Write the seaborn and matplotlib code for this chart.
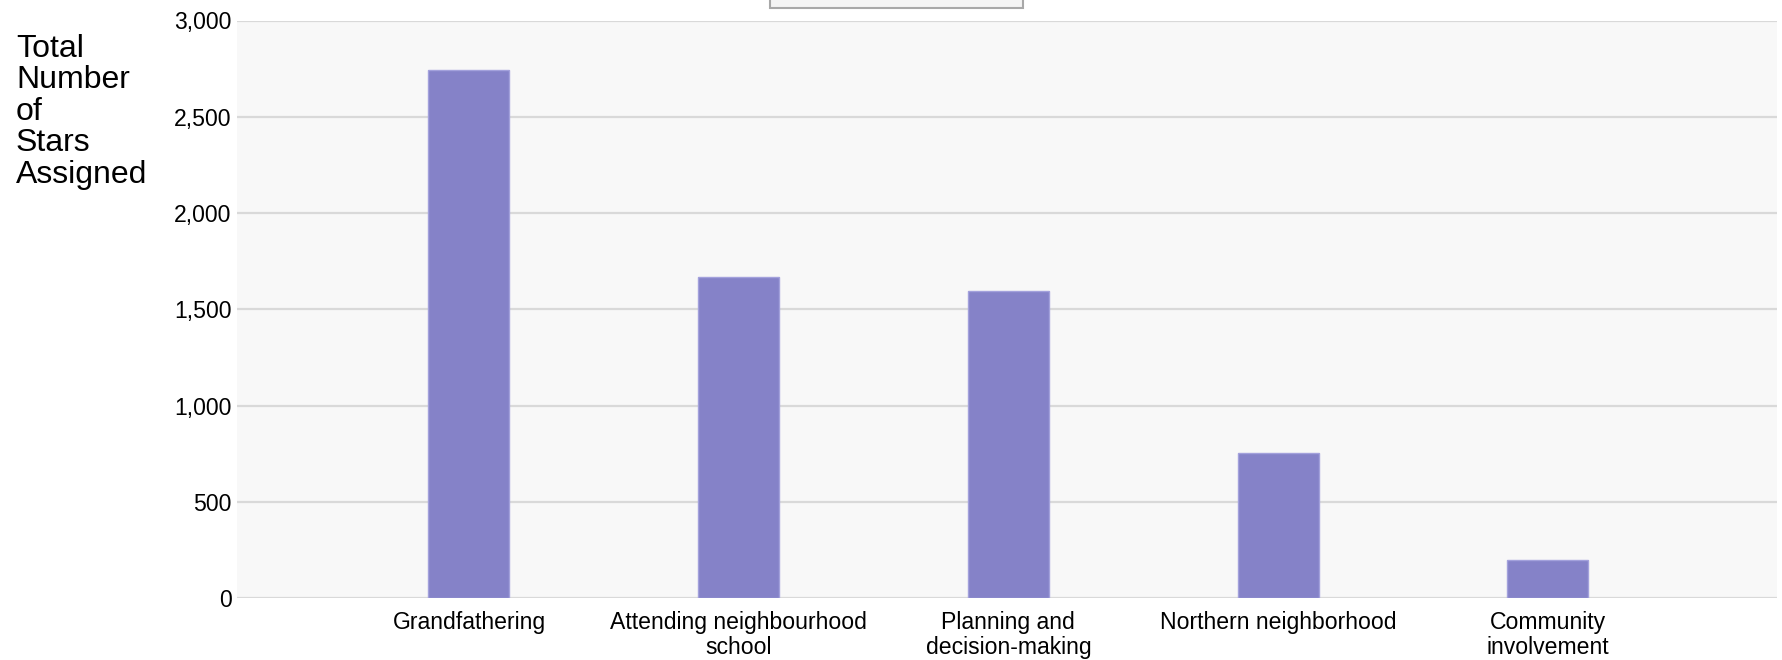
import matplotlib
matplotlib.use("Agg")
import matplotlib.pyplot as plt
import matplotlib.ticker as mticker
from matplotlib.patches import Rectangle
import seaborn as sns
import pandas as pd

categories = ["Grandfathering", "Attending neighbourhood\nschool", "Planning and\ndecision-making",
              "Northern neighborhood", "Community\ninvolvement"]
stars = [2745, 1667, 1595, 755, 195]
y_ticks = [0, 500, 1000, 1500, 2000, 2500, 3000]
y_label = "Total\nNumber\nof\nStars\nAssigned"

sns.set_theme(style="white")
plt.rcParams['font.family'] = ['Liberation Sans', 'DejaVu Sans']

df = pd.DataFrame({"category": categories, "stars": stars})

fig = plt.figure(figsize=(17.83, 6.6), dpi=100)
ax = fig.add_axes([237/1783, 62/660, (1777-237)/1783, (598-20.5)/660])
ax.set_facecolor("#f8f8f8")

sns.barplot(data=df, x="category", y="stars", color="#8582c8", saturation=1,
            width=0.30, edgecolor="#a3a1dc", linewidth=1, ax=ax)

ax.set_xlim(-0.86, 4.85)
ax.set_ylim(0, 3000)
ax.set_yticks(y_ticks)
ax.yaxis.set_major_formatter(mticker.FuncFormatter(lambda v, p: f"{int(v):,}"))
ax.grid(axis="y", color="#d9d9d9", linewidth=1.6)
ax.grid(axis="x", visible=False)
ax.set_axisbelow(True)
for s in ax.spines.values():
    s.set_visible(False)
ax.tick_params(axis="y", length=0, pad=4, labelsize=16.6, colors="black")
ax.tick_params(axis="x", length=0, pad=9, labelsize=16.6, colors="black")
for t in ax.get_xticklabels():
    t.set_linespacing(1.12)
ax.set_xlabel("")
ax.set_ylabel("")

fig.text(16/1783, 1 - 34/660, y_label, ha="left", va="top", fontsize=23,
         linespacing=1.06, color="black")

fig.patches.append(Rectangle((770/1783, 1 - 8/660), 253/1783, 30/660,
                             transform=fig.transFigure, facecolor="#f4f4f4",
                             edgecolor="#a8a8a8", linewidth=1.5, clip_on=False))

fig.savefig("out.png", dpi=100)
